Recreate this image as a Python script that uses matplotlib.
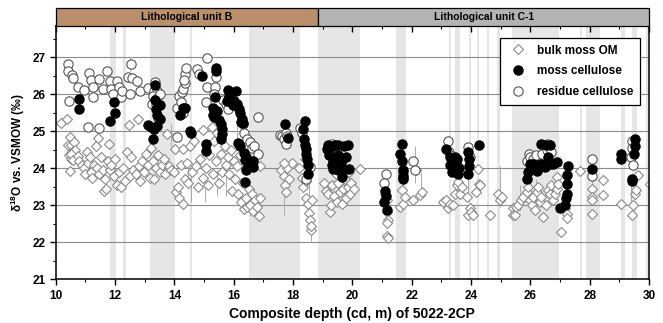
import numpy as np
import matplotlib
matplotlib.use('Agg')
import matplotlib.pyplot as plt
import matplotlib.transforms as mtransforms
from matplotlib.patches import Rectangle
from matplotlib.lines import Line2D
from matplotlib.ticker import MultipleLocator

plt.rcParams['font.family'] = ['Liberation Sans', 'DejaVu Sans']
plt.rcParams['font.weight'] = 'bold'
plt.rcParams['mathtext.fontset'] = 'custom'
plt.rcParams['mathtext.rm'] = 'Liberation Sans:bold'
plt.rcParams['mathtext.bf'] = 'Liberation Sans:bold'
plt.rcParams['mathtext.default'] = 'bf'

# lithological units (top bar)
unit_names = ['Lithological unit B', 'Lithological unit C-1']
unit_start = [10.0, 18.85]
unit_end = [18.85, 30.0]
unit_colors = ['#b9906b', '#b3b3b3']

# grey shaded depth intervals
band_start = [11.83, 12.28, 13.18, 14.52, 16.50, 18.85, 21.47, 23.26, 23.45, 23.93, 24.20,
              24.54, 24.89, 25.38, 27.67, 27.89, 29.07, 29.44, 29.88]
band_end = [12.03, 12.36, 14.01, 14.59, 18.23, 20.25, 21.80, 23.33, 23.62, 24.00, 24.27,
            24.61, 24.97, 26.96, 27.74, 28.36, 29.20, 29.60, 29.95]

# bulk moss OM
bulk_depth = [10.17, 10.39, 10.48, 10.40, 10.50, 10.55, 10.45, 10.62, 10.65, 10.52, 10.48, 10.53,
              10.58, 10.75, 10.80, 10.90, 10.95, 10.98, 11.05, 11.10, 11.15, 11.20, 11.22, 11.30,
              11.35, 11.38, 11.44, 11.45, 11.52, 11.58, 11.62, 11.65, 11.70, 11.75, 11.80, 11.82,
              11.88, 11.95, 12.00, 12.05, 12.12, 12.20, 12.28, 12.35, 12.42, 12.48, 12.50, 12.55,
              12.62, 12.70, 12.76, 12.80, 12.84, 12.90, 12.98, 13.05, 13.12, 13.18, 13.22, 13.28,
              13.32, 13.38, 13.45, 13.50, 13.58, 13.65, 13.74, 13.70, 13.82, 13.90, 14.02, 14.00,
              14.05, 14.12, 14.15, 14.22, 14.28, 14.30, 14.35, 14.42, 14.45, 14.52, 14.58, 14.65,
              14.72, 14.80, 14.88, 14.95, 14.98, 15.05, 15.12, 15.18, 15.26, 15.30, 15.35, 15.40,
              15.45, 15.52, 15.58, 15.62, 15.70, 15.75, 15.80, 15.85, 15.90, 15.95, 16.00, 16.05,
              16.10, 16.15, 16.20, 16.25, 16.30, 16.35, 16.40, 16.45, 16.50, 16.55, 16.60, 16.65,
              16.72, 16.80, 16.85, 16.88, 16.90,
              17.60, 17.68, 17.72, 17.75, 17.80, 17.85, 17.95, 17.70,
              18.20, 18.30, 18.35, 18.42, 18.45, 18.50, 18.55, 18.58, 18.62, 18.60, 18.65, 18.40,
              19.05, 19.10, 19.18, 19.24, 19.28, 19.32, 19.38, 19.45, 19.48, 19.52, 19.58, 19.62,
              19.66, 19.70, 19.75, 19.80, 19.84, 19.88, 19.92, 19.96, 20.05, 20.25,
              21.09, 21.15, 21.17, 21.21, 21.15, 21.15, 21.21,
              21.60, 21.66, 21.71, 21.77, 22.05, 22.16, 22.27, 22.33,
              23.06, 23.17, 23.23, 23.29, 23.40, 23.45, 23.51, 23.57, 23.62, 23.68,
              23.85, 23.90, 23.96, 24.01, 24.07, 24.18, 24.24, 24.27, 24.30,
              24.63, 24.91, 24.97, 25.03,
              25.42, 25.42, 25.47, 25.53, 25.59, 25.70, 25.76, 25.87, 25.92, 25.98, 26.04, 26.09,
              26.15, 26.21, 26.26, 26.32, 26.37, 26.43, 26.54, 26.60, 26.65, 26.71, 26.77, 26.82,
              26.88, 26.90, 26.94,
              27.03, 27.16, 27.22, 27.24, 27.67, 28.06, 28.06, 28.06, 28.09, 28.45, 28.45,
              29.07, 29.41, 29.46, 29.52, 29.57, 29.63, 30.02]
bulk_d18o = [25.22, 25.34, 24.86, 24.62, 24.62, 24.45, 24.35, 24.72, 24.50, 24.25, 23.93, 24.40,
             24.23, 24.33, 24.20, 24.10, 24.00, 23.85, 24.45, 24.15, 24.30, 23.90, 23.75, 24.10,
             24.60, 24.00, 24.82, 23.85, 24.30, 23.95, 23.40, 23.70, 23.45, 24.20, 24.67, 23.95,
             24.10, 23.80, 24.25, 23.55, 23.90, 23.50, 24.00, 23.65, 24.45, 25.16, 23.80, 24.30,
             23.95, 23.85, 25.34, 24.05, 23.65, 24.20, 23.90, 24.40, 24.10, 23.75, 24.55, 24.20,
             23.70, 24.00, 24.35, 23.90, 24.10, 24.25, 24.93, 23.85, 24.05, 23.95, 24.53, 23.90,
             23.35, 23.50, 23.20, 24.10, 23.05, 24.53, 23.70, 24.15, 23.60, 24.60, 23.90, 24.75,
             24.05, 23.50, 24.25, 25.04, 23.75, 24.00, 23.55, 24.35, 25.12, 23.85, 24.75, 24.20,
             24.95, 23.60, 24.40, 23.90, 24.60, 24.10, 24.30, 23.85, 24.50, 23.40, 24.20, 23.70,
             24.05, 23.30, 24.35, 23.10, 23.60, 22.90, 23.20, 22.95, 23.45, 23.00, 23.30, 22.85,
             23.15, 22.95, 22.71, 23.20, 24.05,
             23.95, 23.80, 23.55, 23.35, 24.00, 23.70, 24.14, 24.15,
             24.00, 23.75, 23.50, 23.20, 23.65, 23.05, 22.80, 22.60, 22.33, 22.45, 23.15, 24.25,
             23.60, 23.40, 23.30, 22.83, 23.00, 23.55, 23.25, 23.85, 23.10, 23.60, 23.35, 23.95,
             23.05, 23.45, 23.70, 23.20, 23.50, 23.90, 23.30, 23.60, 23.45, 23.99,
             23.32, 23.14, 22.83, 22.60, 22.52, 22.16, 22.11,
             22.96, 23.41, 23.05, 23.23, 23.14, 23.95, 23.27, 23.36,
             23.10, 23.14, 22.92, 23.05, 23.01, 23.32, 23.54, 23.63, 23.32, 23.50,
             23.23, 22.74, 22.92, 22.83, 22.74, 23.36, 23.99, 23.59, 23.56,
             22.74, 23.32, 23.14, 23.23,
             22.92, 22.74, 22.74, 22.96, 23.01, 23.14, 23.23, 23.36, 23.50, 23.14, 23.01, 23.23,
             22.87, 23.36, 23.50, 23.10, 23.23, 22.69, 23.01, 23.41, 23.32, 23.54, 23.14, 23.32,
             23.45, 23.77, 23.59,
             22.27, 22.92, 22.78, 22.65, 23.93, 23.45, 23.23, 23.14, 22.77, 23.69, 23.27,
             23.05, 22.74, 23.01, 23.32, 23.41, 23.81, 23.59]

# moss cellulose
moss_depth = [10.80, 10.80, 11.83, 11.96, 12.00,
              13.12, 13.20, 13.27, 13.30, 13.35, 13.35, 13.38, 13.40, 13.42, 13.50, 13.52,
              14.19, 14.28, 14.35, 14.52, 14.55, 14.92, 15.06, 15.06,
              15.42, 15.42, 15.37, 15.31, 15.31, 15.35, 15.45, 15.50, 15.58, 15.60, 15.62, 15.58,
              15.76, 15.82, 15.85, 15.90, 15.98, 16.02, 16.07, 16.10, 16.19, 16.22, 16.27, 16.25,
              16.30, 16.15, 16.20, 16.34, 16.43, 16.49, 16.38, 16.66, 16.65, 16.43, 16.38,
              17.73, 17.84, 18.40, 18.35, 18.38, 18.40, 18.42, 18.45, 18.48, 18.51, 18.50,
              19.13, 19.18, 19.28, 19.40, 19.50, 19.72, 19.86, 19.20, 19.35, 19.50, 19.35, 19.50,
              19.65, 19.89, 19.64, 19.30, 19.60, 19.80,
              21.10, 21.12, 21.08, 21.17,
              21.66, 21.62, 21.68, 21.71, 21.70, 21.72,
              23.17, 23.28, 23.28, 23.40, 23.45, 23.50, 23.53, 23.58, 23.56, 23.35,
              23.90, 23.92, 23.92, 23.90, 24.27,
              25.87, 25.92, 25.98, 26.04, 26.09, 26.21, 26.26, 26.37, 26.49, 26.60, 26.65, 26.77,
              26.88, 26.37, 26.54, 26.65,
              26.99, 27.16, 27.19, 27.22, 27.24, 27.24, 27.27,
              28.06, 29.07, 29.07, 29.41, 29.43, 29.52, 29.52, 29.50]
moss_d18o = [25.88, 25.59, 25.29, 25.79, 25.50,
             25.16, 25.12, 24.80, 25.05, 26.24, 25.85, 25.60, 25.45, 25.15, 25.70, 25.32,
             25.43, 25.64, 25.64, 25.00, 24.95, 26.49, 24.67, 24.47,
             26.72, 26.62, 25.93, 25.62, 25.45, 25.38, 25.55, 25.30, 25.20, 25.05, 24.92, 24.80,
             25.83, 26.12, 25.95, 25.78, 25.70, 25.82, 26.10, 25.75, 25.61, 25.50, 25.34, 25.25,
             25.22, 24.68, 24.60, 24.41, 24.30, 24.08, 24.22, 24.04, 24.20, 23.95, 23.63,
             25.21, 24.83, 25.28, 25.05, 24.80, 24.62, 24.52, 24.40, 24.25, 23.86, 24.10,
             24.53, 24.62, 24.58, 24.62, 24.62, 24.60, 24.62, 24.35, 24.20, 24.35, 23.98, 23.95,
             23.90, 23.99, 23.77, 24.10, 24.15, 24.30,
             23.40, 23.25, 23.10, 22.87,
             24.67, 24.40, 24.20, 23.95, 23.80, 23.70,
             24.53, 24.30, 24.10, 24.00, 24.30, 24.15, 24.25, 24.00, 23.86, 23.90,
             24.45, 24.25, 24.05, 23.85, 24.62,
             23.72, 23.90, 24.12, 23.99, 24.12, 23.94, 24.08, 24.12, 24.03, 24.30, 24.12, 24.12,
             24.17, 24.67, 24.62, 24.62,
             22.94, 23.00, 23.19, 23.32, 23.59, 23.81, 24.06,
             23.98, 24.40, 24.25, 23.72, 23.65, 24.78, 24.60, 24.40]

# residue cellulose
res_depth = [10.42, 10.40, 10.56, 10.59, 10.46, 10.76, 10.96, 11.13, 11.18, 11.25, 11.27, 11.47,
             11.58, 11.45, 11.08, 11.72, 11.83, 11.86, 11.94, 12.08, 12.13, 12.20, 12.22, 12.45,
             12.54, 12.58, 12.73, 12.50, 12.84, 13.12, 13.35, 13.30, 13.42, 13.28, 13.40, 13.50,
             13.25, 13.38, 13.45,
             14.10, 14.10, 14.15, 14.25, 14.30, 14.35, 14.35, 14.40, 14.32, 14.22, 14.28, 14.75,
             14.82, 15.11, 15.10, 15.05, 15.37, 15.42, 15.35, 15.65, 15.75, 15.85, 15.80, 16.30,
             16.35, 16.45, 16.55, 16.60, 16.70, 16.83, 16.83,
             17.55, 17.62, 17.70, 17.75, 17.80, 17.75, 18.25, 18.30, 18.57, 18.45,
             19.32, 19.20, 19.45, 21.13, 21.05, 21.70, 21.72, 22.05, 22.11, 23.21, 23.25, 23.30,
             23.90, 23.95,
             25.90, 25.95, 26.00, 26.10, 26.20, 26.40, 26.55, 26.60, 26.70, 28.06, 28.06,
             29.41, 29.41, 29.38, 29.45]
res_d18o = [26.82, 26.62, 26.53, 26.43, 25.81, 26.21, 26.13, 26.57, 26.40, 26.21, 25.92, 26.42,
            26.15, 25.09, 25.13, 26.62, 26.35, 26.15, 26.01, 26.35, 26.19, 25.92, 26.10, 26.46,
            26.82, 26.44, 26.37, 26.01, 26.08, 26.18, 26.33, 26.10, 26.10, 25.95, 25.90, 26.00,
            25.75, 25.70, 25.35,
            24.84, 25.64, 25.95, 26.05, 26.15, 26.30, 26.55, 26.70, 26.40, 25.80, 25.50, 26.69,
            26.55, 26.98, 26.20, 25.79, 26.21, 26.46, 26.00, 25.85, 25.75, 25.90, 25.60, 25.20,
            24.95, 24.80, 24.70, 24.55, 24.60, 24.38, 25.40,
            24.90, 24.88, 24.78, 24.95, 24.88, 24.65, 25.10, 24.95, 24.04, 23.70,
            24.67, 24.50, 24.40, 23.86, 23.60, 23.90, 23.75, 24.21, 23.95, 24.75, 24.45, 24.35,
            24.58, 24.30,
            24.20, 24.40, 24.30, 24.25, 24.35, 24.40, 24.50, 24.65, 24.45, 24.25, 23.80,
            24.75, 24.55, 24.30, 24.10]

# visible error bars (analytical uncertainty)
err_depth = [12.50, 14.55, 15.03, 15.75, 15.45, 14.45, 16.55, 17.69, 18.62, 18.55, 21.15, 21.72,
             22.10, 22.30, 23.25, 23.90, 24.97, 25.64, 26.20, 27.20, 28.06, 29.40, 12.00, 13.90,
             16.12]
err_d18o = [26.82, 23.55, 23.45, 23.70, 23.60, 23.80, 23.00, 23.25, 22.40, 23.20, 22.90, 23.40,
            24.10, 23.60, 24.45, 23.75, 23.50, 23.20, 23.30, 23.00, 23.70, 23.30, 25.85, 24.90,
            25.00]
err_size = [0.20, 0.45, 0.35, 0.45, 0.35, 0.35, 0.30, 0.50, 0.35, 0.40, 0.40, 0.40,
            0.50, 0.30, 0.45, 0.50, 0.55, 0.35, 0.40, 0.35, 0.35, 0.30, 0.30, 0.30,
            0.35]

fig = plt.figure(figsize=(6.63, 3.23), dpi=100)
ax = fig.add_axes([0.084, 0.135, 0.895, 0.785])

# gray intervals
for s, e in zip(band_start, band_end):
    ax.axvspan(s, e, color='#e6e6e6', lw=0, zorder=0)

# horizontal grid
for yv in range(22, 28):
    ax.axhline(yv, color='#8c8c8c', lw=0.8, zorder=0.5)

ax.errorbar(err_depth, err_d18o, yerr=err_size, fmt='none', ecolor='#aaaaaa', elinewidth=0.7, zorder=1)

ax.plot(bulk_depth, bulk_d18o, 'D', ms=5.5, mfc='white', mec='#8a8a8a', mew=0.8, zorder=2)
ax.plot(res_depth, res_d18o, 'o', ms=6.7, mfc='white', mec='#555555', mew=0.8, zorder=3)
ax.plot(moss_depth, moss_d18o, 'o', ms=6.7, mfc='black', mec='black', mew=0.8, zorder=4)

ax.set_xlim(10, 30)
ax.set_ylim(21, 27.85)
ax.xaxis.set_major_locator(MultipleLocator(2))
ax.xaxis.set_minor_locator(MultipleLocator(1))
ax.yaxis.set_major_locator(MultipleLocator(1))
ax.yaxis.set_minor_locator(MultipleLocator(0.5))
ax.set_yticks([21, 22, 23, 24, 25, 26, 27])
ax.tick_params(axis='both', which='major', direction='out', length=4, width=1, labelsize=8.5)
ax.tick_params(axis='both', which='minor', direction='out', length=2.5, width=0.8)
ax.tick_params(axis='x', which='both', top=True, bottom=True)
for lab in ax.get_xticklabels() + ax.get_yticklabels():
    lab.set_fontweight('bold')
for sp in ax.spines.values():
    sp.set_linewidth(1.1)

# bottom ticks point outward, top ticks point inward
for t in ax.xaxis.get_major_ticks() + ax.xaxis.get_minor_ticks():
    t.tick1line.set_marker(3)
    t.tick2line.set_marker(3)

ax.set_xlabel('Composite depth (cd, m) of 5022-2CP', fontsize=10, fontweight='bold', labelpad=4)
ax.set_ylabel('δ$^{18}$O vs. VSMOW (‰)', fontsize=8.5, fontweight='bold', labelpad=4)

# lithology bar on top
trans = mtransforms.blended_transform_factory(ax.transData, ax.transAxes)
for name, s, e, c in zip(unit_names, unit_start, unit_end, unit_colors):
    ax.add_patch(Rectangle((s, 1.0), e - s, 0.072, transform=trans, facecolor=c,
                           edgecolor='black', lw=0.9, clip_on=False, zorder=5))
    ax.text((s + e) / 2, 1.036, name, transform=trans, ha='center', va='center',
            fontsize=7.5, fontweight='bold', zorder=6)

handles = [
    Line2D([], [], ls='none', marker='D', ms=5.5, mfc='white', mec='#8a8a8a', mew=0.8),
    Line2D([], [], ls='none', marker='o', ms=6.7, mfc='black', mec='black', mew=0.8),
    Line2D([], [], ls='none', marker='o', ms=6.7, mfc='white', mec='#555555', mew=0.8),
]
leg = ax.legend(handles, ['bulk moss OM', 'moss cellulose', 'residue cellulose'],
                loc='upper right', bbox_to_anchor=(0.984, 0.952), borderaxespad=0,
                fancybox=False, edgecolor='black', framealpha=1,
                labelspacing=0.75, handletextpad=0.6, borderpad=0.55,
                prop={'weight': 'bold', 'size': 8.5})
leg.get_frame().set_linewidth(0.9)
leg.set_zorder(7)

fig.savefig('out.png', dpi=100)
